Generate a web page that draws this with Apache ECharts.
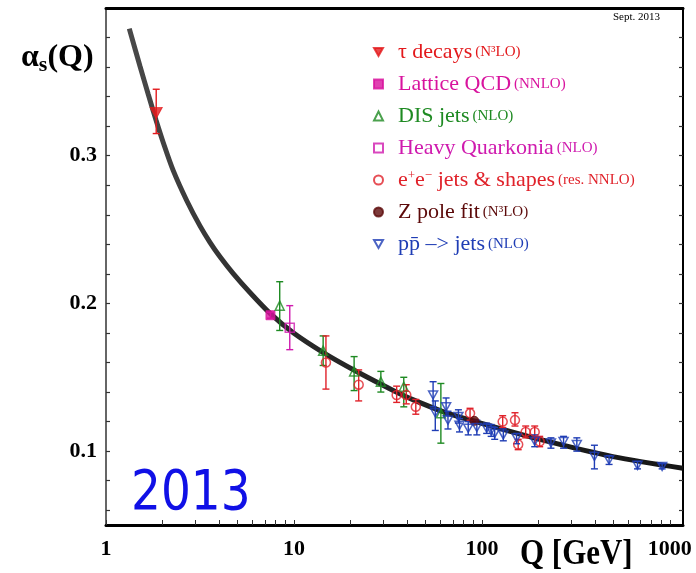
<!DOCTYPE html>
<html>
<head>
<meta charset="utf-8">
<script src="https://cdn.jsdelivr.net/npm/echarts@6/dist/echarts.min.js"></script>
<style>html,body{margin:0;padding:0;background:#fff}#c{width:696px;height:573px}</style>
</head>
<body>
<div id="c"></div>
<script>
// ---- axis ticks ----
var xLabelValues = [1, 10, 100, 1000];
var xTickValues = [1,2,3,4,5,6,7,8,9,10,20,30,40,50,60,70,80,90,100,200,300,400,500,600,700,800,900,1000];
var yLabelValues = [0.1, 0.2, 0.3];
var yTickValues = [0.06,0.08,0.1,0.12,0.14,0.16,0.18,0.2,0.22,0.24,0.26,0.28,0.3,0.32,0.34,0.36,0.38];

// ---- running coupling curve ----
var curveQ = [1.330, 1.517, 1.679, 1.845, 2.018, 2.280, 2.687, 3.162, 3.574, 4.041, 4.755, 5.834, 7.516, 9.915, 14.32, 21.55, 33.75, 43.22, 63.56, 97.6, 216.3, 497.6, 1173];
var curveA = [0.3860, 0.3606, 0.3414, 0.3242, 0.3088, 0.2899, 0.2697, 0.2525, 0.2414, 0.2316, 0.2202, 0.2074, 0.1929, 0.1801, 0.1667, 0.1539, 0.1411, 0.1347, 0.1263, 0.1192, 0.1071, 0.0963, 0.0884];

// ---- measurements: Q, alpha, low, high ----
var tauQ = [1.85];           var tauA = [0.329];  var tauLo = [0.315]; var tauHi = [0.345];
var latQ = [7.5];            var latA = [0.192];  var latLo = [0.190]; var latHi = [0.194];
var disQ = [8.4, 14.3, 20.9, 29, 38.4, 60.5];
var disA = [0.1985, 0.168, 0.154, 0.147, 0.1436, 0.1256];
var disLo = [0.1817, 0.158, 0.141, 0.140, 0.130, 0.1054];
var disHi = [0.2147, 0.178, 0.164, 0.154, 0.150, 0.1458];
var hqQ = [9.5];             var hqA = [0.1835];  var hqLo = [0.1687]; var hqHi = [0.1985];
var eeQ = [14.8, 22.1, 35.2, 39.6, 44.5, 86.5, 129, 150, 156, 171, 191, 203];
var eeA = [0.160, 0.145, 0.138, 0.138, 0.130, 0.1256, 0.120, 0.121, 0.1045, 0.113, 0.113, 0.1065];
var eeLo = [0.142, 0.134, 0.133, 0.132, 0.125, 0.121, 0.116, 0.117, 0.101, 0.109, 0.109, 0.103];
var eeHi = [0.178, 0.155, 0.144, 0.145, 0.135, 0.129, 0.124, 0.126, 0.108, 0.117, 0.117, 0.110];
var zQ = [91.2];             var zA = [0.1205];   var zLo = [0.1195]; var zHi = [0.1215];
var ppQ = [55, 56.5, 64.5, 66, 75, 76, 84.6, 94, 106, 112, 117, 130, 153, 191, 233, 272, 320, 397, 475, 673, 910];
var ppA = [0.138, 0.126, 0.130, 0.121, 0.1235, 0.1175, 0.1155, 0.116, 0.1155, 0.114, 0.112, 0.111, 0.109, 0.1068, 0.1055, 0.1065, 0.1045, 0.0965, 0.094, 0.0904, 0.0897];
var ppLo = [0.130, 0.114, 0.124, 0.115, 0.119, 0.113, 0.111, 0.111, 0.112, 0.110, 0.108, 0.107, 0.105, 0.103, 0.102, 0.102, 0.100, 0.088, 0.091, 0.088, 0.088];
var ppHi = [0.147, 0.134, 0.136, 0.127, 0.128, 0.122, 0.120, 0.121, 0.119, 0.118, 0.116, 0.115, 0.112, 0.111, 0.109, 0.110, 0.109, 0.104, 0.097, 0.093, 0.0915];

// ---- legend text ----
var legendNames = ['τ decays', 'Lattice QCD', 'DIS jets', 'Heavy Quarkonia', 'e+e- jets & shapes', 'Z pole fit', 'pp jets'];
var legendRich = [
  '{g| }{m|τ decays} {p|(N³LO)}',
  '{g| }{m|Lattice QCD} {p|(NNLO)}',
  '{g| }{m|DIS jets} {p|(NLO)}',
  '{g| }{m|Heavy Quarkonia} {p|(NLO)}',
  '{g| }{m|e}{s|+}{m|e}{s|−}{m| jets & shapes} {p|(res. NNLO)}',
  '{g| }{m|Z pole fit} {p|(N³LO)}',
  '{g| }{m|pp̄ –> jets} {p|(NLO)}'
];
var legendColors = ['#e3191c', '#d8139e', '#1e8a22', '#cf1aae', '#e0222a', '#5c0a0a', '#1f3db5'];

var downTri = 'path://M0,0 L10,0 L5,9 Z';

function zip2(q, a) { return q.map(function (v, i) { return [v, a[i]]; }); }
function zip3(q, lo, hi) { return q.map(function (v, i) { return [v, lo[i], hi[i]]; }); }

function errSeries(name, q, lo, hi, color) {
  return {
    name: name + '_err', type: 'custom', z: 3, silent: true,
    data: zip3(q, lo, hi),
    renderItem: function (params, api) {
      var x = api.value(0);
      var p1 = api.coord([x, api.value(1)]);
      var p2 = api.coord([x, api.value(2)]);
      var cw = 3.5;
      var st = { stroke: color, lineWidth: 1.4 };
      return { type: 'group', children: [
        { type: 'line', shape: { x1: p1[0], y1: p1[1], x2: p2[0], y2: p2[1] }, style: st },
        { type: 'line', shape: { x1: p1[0] - cw, y1: p1[1], x2: p1[0] + cw, y2: p1[1] }, style: st },
        { type: 'line', shape: { x1: p2[0] - cw, y1: p2[1], x2: p2[0] + cw, y2: p2[1] }, style: st }
      ]};
    }
  };
}
function ptSeries(name, q, a, symbol, size, color, filled) {
  return {
    name: name, type: 'scatter', z: 4, symbol: symbol, symbolSize: size,
    data: zip2(q, a),
    itemStyle: filled ? { color: color, borderColor: color, borderWidth: 1 }
                      : { color: 'rgba(255,255,255,0)', borderColor: color, borderWidth: 1.5 }
  };
}

var chart = echarts.init(document.getElementById('c'), null, { renderer: 'canvas' });
var serif = "'Liberation Serif', 'Times New Roman', serif";

var series = [
  { name: 'curve', type: 'line', z: 2, smooth: 0.3, symbol: 'none', silent: true,
    data: zip2(curveQ, curveA),
    lineStyle: { width: 5, color: new echarts.graphic.LinearGradient(0, 0, 1, 0, [
      { offset: 0, color: '#4a4a4a' }, { offset: 0.25, color: '#2a2a2a' }, { offset: 1, color: '#161616' }]) } },
  errSeries('τ decays', tauQ, tauLo, tauHi, legendColors[0]),
  errSeries('Lattice QCD', latQ, latLo, latHi, legendColors[1]),
  errSeries('DIS jets', disQ, disLo, disHi, legendColors[2]),
  errSeries('Heavy Quarkonia', hqQ, hqLo, hqHi, legendColors[3]),
  errSeries('e+e- jets & shapes', eeQ, eeLo, eeHi, legendColors[4]),
  errSeries('Z pole fit', zQ, zLo, zHi, legendColors[5]),
  errSeries('pp jets', ppQ, ppLo, ppHi, legendColors[6]),
  ptSeries('τ decays', tauQ, tauA, downTri, [12, 11], legendColors[0], true),
  ptSeries('Lattice QCD', latQ, latA, 'rect', 9, legendColors[1], true),
  ptSeries('DIS jets', disQ, disA, 'triangle', [9, 9], legendColors[2], false),
  ptSeries('Heavy Quarkonia', hqQ, hqA, 'rect', 9, legendColors[3], false),
  ptSeries('e+e- jets & shapes', eeQ, eeA, 'circle', 9, legendColors[4], false),
  ptSeries('Z pole fit', zQ, zA, 'circle', 9, legendColors[5], true),
  ptSeries('pp jets', ppQ, ppA, downTri, [9, 8], legendColors[6], false)
];

chart.setOption({
  animation: false,
  backgroundColor: '#fff',
  grid: { left: 106, right: 13, top: 8, bottom: 48 },
  legend: {
    orient: 'vertical', left: 373, top: 41, itemGap: 10,
    itemWidth: 9, itemHeight: 9, padding: 0,
    selectedMode: false,
    data: legendNames.map(function (n, i) {
      return { name: n, textStyle: { color: legendColors[i] } };
    }),
    formatter: function (name) { return legendRich[legendNames.indexOf(name)]; },
    textStyle: {
      fontFamily: serif,
      rich: {
        g: { width: 10, fontSize: 10, lineHeight: 22 },
        m: { fontFamily: serif, fontSize: 22, lineHeight: 22 },
        p: { fontFamily: serif, fontSize: 15, lineHeight: 22 },
        s: { fontFamily: serif, fontSize: 13, lineHeight: 22, verticalAlign: 'top', padding: [0, 0, 8, 0] }
      }
    }
  },
  xAxis: [{
    type: 'log', logBase: 10, min: 1, max: 1175, position: 'bottom',
    axisLine: { lineStyle: { color: '#000', width: 3 } },
    axisTick: { show: true, inside: true, length: 5, lineStyle: { color: '#333', width: 1 }, customValues: xTickValues },
    axisLabel: { customValues: xLabelValues, margin: 13, color: '#000', fontFamily: serif, fontWeight: 'bold', fontSize: 22,
      formatter: function (v) { return String(Math.round(v)); } },
    splitLine: { show: false }, minorTick: { show: false }
  }, {
    type: 'log', logBase: 10, min: 1, max: 1175, position: 'top',
    axisLine: { lineStyle: { color: '#000', width: 3 } },
    axisTick: { show: false }, axisLabel: { show: false }, splitLine: { show: false }
  }],
  yAxis: [{
    type: 'value', min: 0.05, max: 0.4, position: 'left',
    axisLine: { show: true, lineStyle: { color: '#333', width: 1.5 } },
    axisTick: { show: true, inside: true, length: 4, lineStyle: { color: '#333', width: 1.2 }, customValues: yTickValues },
    axisLabel: { customValues: yLabelValues, margin: 9, color: '#000', fontFamily: serif, fontWeight: 'bold', fontSize: 22,
      formatter: function (v) { return v.toFixed(1); } },
    splitLine: { show: false }
  }, {
    type: 'value', min: 0.05, max: 0.4, position: 'right',
    axisLine: { show: true, lineStyle: { color: '#000', width: 2 } },
    axisTick: { show: true, inside: true, length: 4, lineStyle: { color: '#333', width: 1.2 }, customValues: yTickValues },
    axisLabel: { show: false }, splitLine: { show: false }
  }],
  graphic: [
    { type: 'text', left: 21, top: 42, style: {
        text: '{a|α}{s|s}{a|(Q)}',
        rich: {
          a: { fontFamily: serif, fontWeight: 'bold', fontSize: 32, fill: '#000' },
          s: { fontFamily: serif, fontWeight: 'bold', fontSize: 22, fill: '#000', padding: [14, 0, 0, 0] }
        } } },
    { type: 'text', left: 520, top: 537, scaleX: 0.86, style: {
        text: 'Q [GeV]', fontFamily: serif, fontWeight: 'bold', fontSize: 36, fill: '#000' } },
    { type: 'text', left: 613, top: 12, style: {
        text: 'Sept. 2013', fontFamily: serif, fontSize: 11, fill: '#000' } },
    { type: 'text', left: 131, top: 466, scaleX: 0.84, style: {
        text: '2013', fontFamily: "'DejaVu Sans', sans-serif", fontSize: 56, fill: '#1010e6' } }
  ],
  series: series
});
</script>
</body>
</html>
